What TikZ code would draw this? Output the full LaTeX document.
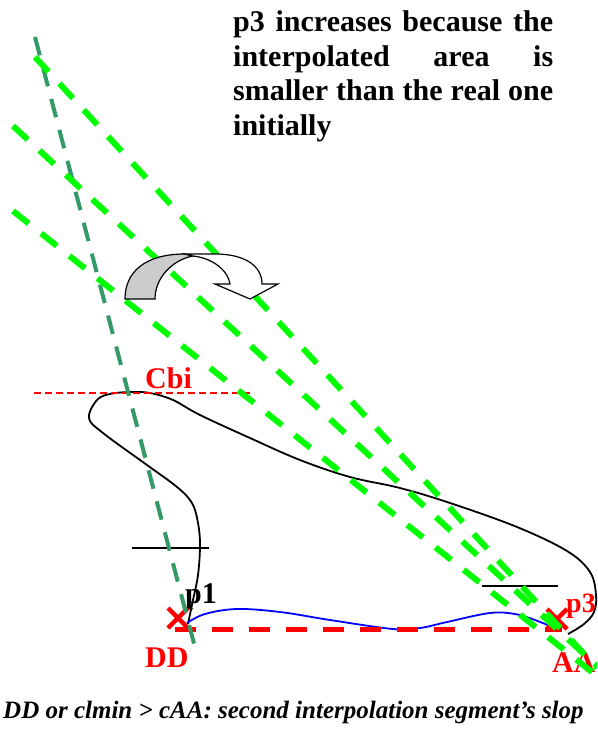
\documentclass[tikz,border=0pt]{standalone}
\usepackage{fontspec}
\setmainfont{Liberation Serif}
\usepackage{tikz}
\definecolor{lgreen}{RGB}{0,255,0}
\definecolor{sgreen}{RGB}{51,153,102}
\definecolor{xred}{RGB}{255,0,0}
\definecolor{xblue}{RGB}{0,0,255}
\tikzset{
  fitln/.style={lgreen, line width=6pt, dash pattern=on 20pt off 16pt},
  slopeln/.style={sgreen, line width=4pt, dash pattern=on 19pt off 13pt},
  segln/.style={xred, line width=5pt, dash pattern=on 21pt off 16pt},
  cbiln/.style={xred, line width=1.8pt, dash pattern=on 7pt off 4pt},
  crossmk/.style={xred, line width=4.5pt},
  tickln/.style={black, line width=1.8pt},
  lbl/.style={inner sep=0pt, anchor=base west, font={\fontsize{30}{34}\selectfont\bfseries}},
}

\begin{document}
\begin{tikzpicture}[x=1pt,y=-1pt]
  \useasboundingbox (0,0) rectangle (597,730);
  \clip (0,0) rectangle (597,730);
  % real curve
  \draw[black, line width=1.8pt] plot[smooth, tension=0.6] coordinates {
    (188,624) (193,600) (198,575) (200,545) (198,523) (192,503) (177,487)
    (147,465) (103,433) (89,418) (97,400) (110,394) (130,392) (150,393)
    (173,400) (200,415) (250,438) (300,460) (350,477) (400,488) (450,503)
    (517,527) (567,551) (590,572) (596,595) (594,612) (584,624) (568,634)};
  \draw[tickln] (132,548) -- (209,548);
  \draw[tickln] (482,586) -- (558,586);
  % interpolated curve
  \draw[xblue, line width=1.8pt] plot[smooth, tension=0.6] coordinates {
    (187,623) (205,614) (237,609) (280,612) (330,620) (393,629) (420,628)
    (447,622) (490,613) (515,614) (535,620) (557,629)};
  \draw[segln] (175,629) -- (562,629);
  \draw[cbiln] (34,393) -- (250,393);
  % labels
  \node[lbl, text=xred] (cbi) at (145,388) {Cbi};
  \node[lbl, text=xred] (dd) at (145,667) {DD};
  \node[lbl, text=xred] (aa) at (552,672) {AA};
  \node[lbl] (pone) at (185,603) {p1};
  \node[lbl, text=xred, font={\fontsize{28}{32}\selectfont\bfseries}] (pthree) at (566,612) {p3};
  \draw[crossmk] (168,608) -- (188,628) (168,628) -- (188,608);
  \draw[crossmk] (547,609) -- (567,629) (547,629) -- (567,609);
  % slopes
  \draw[slopeln] (35,37) -- (197,655);
  \draw[fitln] (35,57) -- (597,668);
  \draw[fitln] (13,126) -- (597,666);
  \draw[fitln] (13,211) -- (597,676);
  % turning arrow
  \filldraw[fill=black!20, line width=1.2pt] (125,299) .. controls (125,272) and (145,254) .. (185,254)
    -- (193,256) .. controls (172,260) and (155,278) .. (155,299) -- cycle;
  \filldraw[fill=white, line width=1.2pt] (185,254) -- (215,254) .. controls (245,254) and (262,266) .. (262,284)
    -- (278,284) -- (250,299) -- (215,284) -- (230,284) .. controls (228,270) and (212,258) .. (193,256) -- cycle;
  \node[anchor=north west, inner sep=0pt, text width=320pt, align=justify,
    font={\fontsize{30}{34.5}\selectfont\bfseries}] (note) at (233,10.5)
    {p3 increases because the\linebreak interpolated area is\linebreak smaller than the real one\linebreak initially};
  \node[anchor=base west, inner sep=0pt, font={\fontsize{25}{29}\selectfont\bfseries\itshape}] (caption) at (3,718)
    {DD or clmin > cAA: second interpolation segment’s slop};
\end{tikzpicture}
\end{document}
